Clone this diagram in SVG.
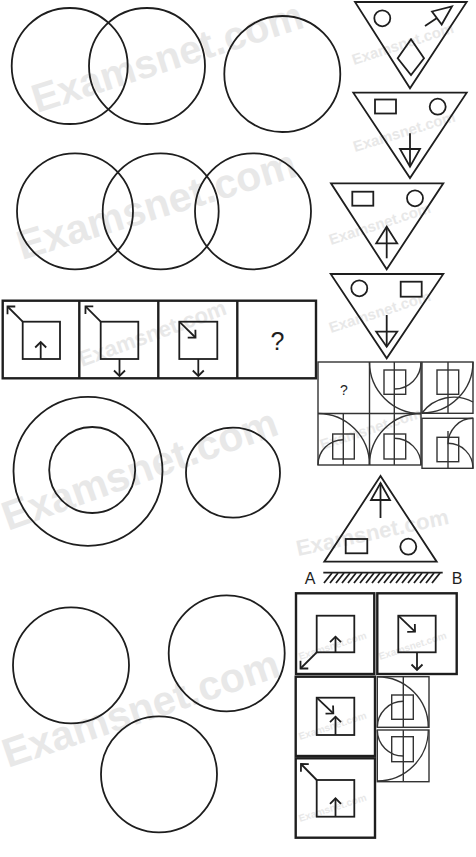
<svg xmlns="http://www.w3.org/2000/svg" width="476" height="857" viewBox="0 0 476 857">
<style>
.c{fill:none;stroke:#1e1e1e;stroke-width:1.8}
.t{fill:none;stroke:#1e1e1e;stroke-width:1.8;stroke-linejoin:miter}
.b{fill:none;stroke:#1e1e1e;stroke-width:2.4}
.s{fill:none;stroke:#1e1e1e;stroke-width:1.8}
.g{fill:none;stroke:#333;stroke-width:1.4}
.ar{fill:none;stroke:#1e1e1e;stroke-width:1.8;marker-end:url(#chev)}
.wm{font-family:"Liberation Sans",Arial,sans-serif;font-weight:bold;fill:#e8e8e8}
.lbl{font-family:"Liberation Sans",Arial,sans-serif;fill:#1e1e1e}
</style>
<defs>
<marker id="chev" markerUnits="userSpaceOnUse" markerWidth="14" markerHeight="14" refX="7" refY="7" orient="auto">
<path d="M1.5,1.5 L7,7 L1.5,12.5" fill="none" stroke="#1e1e1e" stroke-width="1.8"/>
</marker>
</defs>
<rect width="476" height="857" fill="#fff"/>

<g id="watermarks">
<text class="wm" x="37" y="113" font-size="40" transform="rotate(-17.7 37 113)">Examsnet.com</text>
<text class="wm" x="22" y="260" font-size="41" transform="rotate(-16.9 22 260)">Examsnet.com</text>
<text class="wm" x="82" y="367" font-size="22" transform="rotate(-20 82 367)">Examsnet.com</text>
<text class="wm" x="8" y="531" font-size="41" transform="rotate(-19.6 8 531)">Examsnet.com</text>
<text class="wm" x="8" y="768" font-size="41" transform="rotate(-18.6 8 768)">Examsnet.com</text>
<text class="wm" x="354" y="65" font-size="15" transform="rotate(-18 354 65)">Examsnet.com</text>
<text class="wm" x="355" y="152" font-size="15" transform="rotate(-17 355 152)">Examsnet.com</text>
<text class="wm" x="331" y="245" font-size="15" transform="rotate(-18 331 245)">Examsnet.com</text>
<text class="wm" x="331" y="333" font-size="15" transform="rotate(-18 331 333)">Examsnet.com</text>
<text class="wm" x="322" y="450" font-size="15" transform="rotate(-18 322 450)">Examsnet.com</text>
<text class="wm" x="298" y="556" font-size="22" transform="rotate(-12 298 556)">Examsnet.com</text>
<text class="wm" x="300" y="660" font-size="10" transform="rotate(-18 300 660)">Examsnet.com</text>
<text class="wm" x="380" y="660" font-size="10" transform="rotate(-18 380 660)">Examsnet.com</text>
<text class="wm" x="300" y="740" font-size="10" transform="rotate(-18 300 740)">Examsnet.com</text>
<text class="wm" x="300" y="822" font-size="10" transform="rotate(-18 300 822)">Examsnet.com</text>
</g>

<g id="venn-two">
<circle class="c" cx="69.7" cy="66" r="58"/>
<circle class="c" cx="147" cy="66" r="58"/>
<circle class="c" cx="282.3" cy="74" r="58"/>
</g>

<g id="venn-three">
<circle class="c" cx="75" cy="211.3" r="58"/>
<circle class="c" cx="160.7" cy="211.3" r="58"/>
<circle class="c" cx="253" cy="211.3" r="58"/>
</g>

<g id="triangle-1">
<polygon class="t" points="355,2 466.7,2 410,88.3"/>
<circle class="s" cx="382.3" cy="18.3" r="8"/>
<polygon class="s" points="411,39.3 424,58.3 411,75 397.7,58.3"/>
<line class="s" x1="425" y1="26" x2="437" y2="18"/>
<polygon class="s" points="432,11.5 452,6.5 441.7,24.5"/>
</g>

<g id="triangle-2">
<polygon class="t" points="353.3,92.7 466.7,92.7 410,178"/>
<rect class="s" x="375" y="99.5" width="21" height="14"/>
<circle class="s" cx="437.7" cy="106.7" r="8"/>
<line class="s" x1="410" y1="133.3" x2="410" y2="166.7"/>
<polygon class="s" points="400,149 420,149 410,166.7"/>
</g>

<g id="triangle-3">
<polygon class="t" points="331,183.3 443.3,183.3 386.7,269.3"/>
<rect class="s" x="352.3" y="191.7" width="21" height="14"/>
<circle class="s" cx="415" cy="198.3" r="8"/>
<line class="s" x1="386.7" y1="258.3" x2="386.7" y2="226.7"/>
<polygon class="s" points="386.7,226.7 397.2,243.3 376.2,243.3"/>
</g>

<g id="triangle-4">
<polygon class="t" points="330.7,274 443.3,274 386.7,358.3"/>
<circle class="s" cx="359.3" cy="288.3" r="8"/>
<rect class="s" x="400.7" y="281.7" width="21" height="15"/>
<line class="s" x1="386.7" y1="315" x2="386.7" y2="346.7"/>
<polygon class="s" points="376.2,331.7 397.2,331.7 386.7,346.7"/>
</g>

<g id="series-boxes">
<rect class="b" x="2.7" y="300.7" width="313.3" height="77.6"/>
<line class="b" x1="79.3" y1="300.7" x2="79.3" y2="378.3"/>
<line class="b" x1="158.3" y1="300.7" x2="158.3" y2="378.3"/>
<line class="b" x1="237.3" y1="300.7" x2="237.3" y2="378.3"/>
<rect class="s" x="22.7" y="321.7" width="37.3" height="37.3"/>
<line class="ar" x1="40.7" y1="359" x2="40.7" y2="342"/>
<line class="ar" x1="22.7" y1="321.7" x2="7.5" y2="306.5"/>
<rect class="s" x="100.7" y="321.7" width="37.6" height="37.3"/>
<line class="ar" x1="100.7" y1="321.7" x2="85.5" y2="306.3"/>
<line class="ar" x1="119.5" y1="359" x2="119.5" y2="376"/>
<rect class="s" x="179.3" y="321.7" width="38" height="37.3"/>
<line class="ar" x1="179.3" y1="321.7" x2="195.5" y2="337.5"/>
<line class="ar" x1="198.3" y1="359" x2="198.3" y2="376"/>
<text class="lbl" x="277.5" y="350" font-size="25" text-anchor="middle">?</text>
</g>

<g id="grid-question">
<rect class="g" x="318" y="362" width="103" height="103"/>
<line class="g" x1="369.5" y1="362" x2="369.5" y2="465"/>
<line class="g" x1="318" y1="413.5" x2="421" y2="413.5"/>
<text class="lbl" x="344" y="395" font-size="14" text-anchor="middle">?</text>
<rect class="g" x="384" y="370" width="21.7" height="24.3"/>
<line class="g" x1="394.3" y1="362" x2="394.3" y2="413.5"/>
<path class="g" d="M369.5,362 A51.5,51.5 0 0 0 421,413.5"/>
<path class="g" d="M394.3,389 A26.7,26.7 0 0 0 421,362.3"/>
<rect class="g" x="332.7" y="434" width="21.6" height="25"/>
<line class="g" x1="343.3" y1="413.5" x2="343.3" y2="465"/>
<path class="g" d="M318,413.5 A51.5,51.5 0 0 1 369.5,465"/>
<path class="g" d="M318,465 A25.3,25.3 0 0 1 343.3,439.7"/>
<rect class="g" x="384" y="434" width="21.7" height="25"/>
<line class="g" x1="394.3" y1="413.5" x2="394.3" y2="465"/>
<path class="g" d="M369.5,465 A51.5,51.5 0 0 1 421,413.5"/>
<path class="g" d="M394.3,438.3 A26.7,26.7 0 0 1 421,465"/>
</g>

<g id="option-a">
<rect class="g" x="422" y="362" width="51" height="51.3"/>
<line class="g" x1="448" y1="362" x2="448" y2="413.3"/>
<rect class="g" x="437" y="370" width="21.7" height="24.3"/>
<path class="g" d="M473,362 A51,51 0 0 1 422,413"/>
<path class="g" d="M422,413 A40,40 0 0 1 473,402"/>
</g>

<g id="option-b">
<rect class="g" x="422" y="418.3" width="51" height="50"/>
<line class="g" x1="448" y1="431" x2="448" y2="468.3"/>
<rect class="g" x="437" y="437.3" width="21.7" height="24.4"/>
<path class="g" d="M448,444.3 A25,26 0 0 1 473,418.3"/>
<path class="g" d="M448,443.3 A25,25 0 0 1 473,468.3"/>
</g>

<g id="rings">
<circle class="c" cx="88" cy="471.3" r="74.5"/>
<circle class="c" cx="92.2" cy="470" r="43"/>
<ellipse class="c" cx="233" cy="472.7" rx="47" ry="45"/>
</g>

<g id="mirror-triangle">
<polygon class="t" points="380.5,476 324.3,561.7 436.7,561.7"/>
<line class="s" x1="380.5" y1="518" x2="380.5" y2="483"/>
<polygon class="s" points="380.5,483 390,500 371,500"/>
<rect class="s" x="345.7" y="539" width="21.6" height="14.3"/>
<circle class="s" cx="408.3" cy="546.7" r="8"/>
</g>

<g id="mirror-line">
<text class="lbl" x="310" y="584" font-size="16" text-anchor="middle">A</text>
<text class="lbl" x="457" y="584" font-size="16" text-anchor="middle">B</text>
<line class="s" x1="323.3" y1="572.7" x2="442.7" y2="572.7"/>
<path class="s" stroke-width="1.4" d="M324,583 l8,-10 M330,583 l8,-10 M336,583 l8,-10 M342,583 l8,-10 M348,583 l8,-10 M354,583 l8,-10 M360,583 l8,-10 M366,583 l8,-10 M372,583 l8,-10 M378,583 l8,-10 M384,583 l8,-10 M390,583 l8,-10 M396,583 l8,-10 M402,583 l8,-10 M408,583 l8,-10 M414,583 l8,-10 M420,583 l8,-10 M426,583 l8,-10 M432,583 l8,-10"/>
</g>

<g id="answer-1">
<rect class="b" x="296" y="593.3" width="78.3" height="80.7"/>
<rect class="s" x="316.7" y="615.7" width="37.6" height="36.6"/>
<line class="ar" x1="335.5" y1="652.3" x2="335.5" y2="636.7"/>
<line class="ar" x1="316.7" y1="652.3" x2="300.5" y2="668.5"/>
</g>

<g id="answer-2">
<rect class="b" x="377.3" y="593.3" width="79.4" height="80.7"/>
<rect class="s" x="398.3" y="615.7" width="37.4" height="36.6"/>
<line class="ar" x1="398.3" y1="615.7" x2="415" y2="631.7"/>
<line class="ar" x1="417" y1="652.3" x2="417" y2="670"/>
</g>

<g id="answer-3">
<rect class="b" x="295.7" y="676.7" width="79.3" height="79.3"/>
<rect class="s" x="316.7" y="697.7" width="37.6" height="37.3"/>
<line class="ar" x1="316.7" y1="697.7" x2="333.3" y2="713.3"/>
<line class="ar" x1="335.5" y1="735" x2="335.5" y2="716.7"/>
</g>

<g id="answer-4">
<rect class="b" x="295.7" y="758.3" width="79.3" height="79.4"/>
<rect class="s" x="316.7" y="780" width="37.6" height="36.7"/>
<line class="ar" x1="316.7" y1="780" x2="301" y2="764"/>
<line class="ar" x1="335.5" y1="816.7" x2="335.5" y2="798.3"/>
</g>

<g id="answer-5">
<rect class="g" x="377.3" y="676.7" width="51.7" height="50.6"/>
<line class="g" x1="403.3" y1="676.7" x2="403.3" y2="727.3"/>
<rect class="g" x="391.7" y="695" width="21.6" height="24.3"/>
<path class="g" d="M377.3,676.7 A51,50.6 0 0 1 428.3,727.3"/>
<path class="g" d="M377.3,727.3 A26,26 0 0 1 403.3,701.3"/>
</g>

<g id="answer-6">
<rect class="g" x="377.3" y="730" width="51.7" height="51.7"/>
<line class="g" x1="403.3" y1="730" x2="403.3" y2="781.7"/>
<rect class="g" x="391.7" y="736.7" width="21.6" height="25"/>
<path class="g" d="M428.3,730 A51,51 0 0 1 377.3,781"/>
<path class="g" d="M377.3,730 A26,26 0 0 0 403.3,756"/>
</g>

<g id="circles-three">
<circle class="c" cx="71" cy="665.3" r="58"/>
<circle class="c" cx="226.7" cy="653.3" r="58"/>
<circle class="c" cx="159" cy="774.3" r="58"/>
</g>
</svg>
